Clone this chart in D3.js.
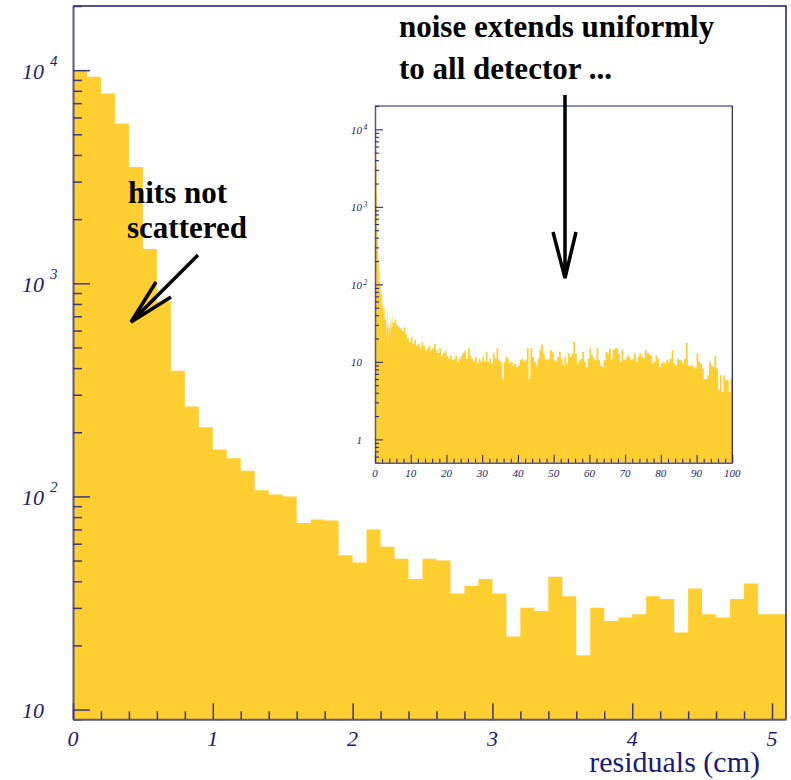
<!DOCTYPE html>
<html>
<head>
<meta charset="utf-8">
<script src="https://cdn.jsdelivr.net/npm/d3@7"></script>
<style>
  html, body { margin: 0; padding: 0; background: #fff; }
  svg { display: block; }
  text { font-family: "Liberation Serif", "Times New Roman", serif; }
</style>
</head>
<body>
<svg id="chart" width="791" height="780"></svg>
<script>
// residual histogram, 0.1 cm bins from 0 to 5.1 cm
const binWidth = 0.1;
const mainCounts = [
  9900, 9310, 7780, 5620, 3515, 1450, 822, 389, 264, 211,
  166, 151, 132, 107, 102, 100, 75, 78, 77, 53,
  49, 70, 58, 51, 41, 51, 50, 35, 38, 41,
  35, 22, 30, 29, 42, 34, 18, 30, 26, 27,
  28, 34, 33, 23, 37, 28, 27, 33, 39, 28,
  28
];

// inset: the same histogram up to 5 cm, then the noise tail in 0.5 cm bins up to 100 cm
const noiseStart = 5.0;
const noiseBinWidth = 0.5;
const noiseCounts = [
  32, 35, 30, 28, 27, 25, 28, 23, 20, 18,
  21, 17, 19, 16, 17, 15, 18, 16, 14, 15,
  16, 14, 15, 17, 14, 13, 15, 12, 13, 14,
  12, 11, 12, 10.5, 11, 12, 10, 11, 12, 13,
  14, 11, 15, 12, 11, 10, 11.5, 9.5, 11, 10,
  11.6, 10, 13.5, 10, 11, 9.5, 12.8, 11, 15, 10.5,
  10, 5.9, 10, 11.6, 11, 9.5, 10, 9, 9.5, 8.6,
  9, 10.5, 11, 10, 10.5, 15, 5.9, 15, 11.6, 10,
  9, 11, 14.2, 16.9, 12.8, 11, 10.5, 11, 14.2, 13.5,
  10.5, 10, 11.6, 13.5, 11, 9, 11.6, 9.5, 12.8, 11.6,
  12.8, 18.2, 12.8, 9.5, 10.5, 11, 13.5, 10, 8.6, 11,
  15, 12.2, 11, 10.5, 15, 10.5, 9, 8.6, 10.5, 13.5,
  12.8, 15, 11, 14.2, 15, 15, 12.8, 10, 14.2, 10.5,
  11, 12.2, 11.6, 10.5, 11, 12.8, 10, 11.6, 12.8, 11.6,
  11, 14.2, 12.8, 12.8, 12.2, 9.5, 10, 12.2, 11, 8.6,
  9.5, 10, 9.5, 10.5, 10, 11, 14.2, 9.5, 9, 11,
  10.5, 10.5, 9.5, 11, 17.7, 9, 8.8, 9, 8.6, 8.2,
  12.8, 10, 9.5, 8.2, 6, 6, 6.7, 10, 9, 8.6,
  11.8, 8.2, 4.3, 6.7, 4.1, 6.7, 5.8, 5.8, 4.1, 6
];

const mainXLabels = [0, 1, 2, 3, 4, 5];
const mainYDecades = [1, 2, 3, 4];
const insetXLabels = [0, 10, 20, 30, 40, 50, 60, 70, 80, 90, 100];
const insetYDecades = [0, 1, 2, 3, 4];

const fillColor = '#ffce30';
const navy = '#1b1b72';
const axisGrey = '#5d5786';

const svg = d3.select('#chart');

function logTicks(domain, decades) {
  const majors = [];
  const minors = [];
  decades.forEach(d => {
    for (let m = 1; m <= 9; m++) {
      const v = m * Math.pow(10, d);
      if (v < domain[0] || v > domain[1]) continue;
      (m === 1 ? majors : minors).push(v);
    }
  });
  return { majors, minors };
}

function stepArea(xs, ys, bottom) {
  return d3.area()
    .curve(d3.curveStepAfter)
    .x(d => xs(d[0]))
    .y0(bottom)
    .y1(d => ys(d[1]));
}

// ---------- main histogram ----------
const x = d3.scaleLinear().domain([0, 5.1]).range([73, 786]);
const y = d3.scaleLog().domain([9, 20000]).range([719.3, 6]);

const mainPts = mainCounts.map((v, i) => [i * binWidth, v]);
mainPts.push([mainCounts.length * binWidth, mainCounts[mainCounts.length - 1]]);

svg.append('path')
  .datum(mainPts)
  .attr('fill', fillColor)
  .attr('d', stepArea(x, y, y.range()[0]));

// frame top / right
svg.append('path')
  .attr('d', `M${x(0)},${y(20000)}H${x(5.1)}V${y(9)}`)
  .attr('fill', 'none')
  .attr('stroke', navy)
  .attr('stroke-width', 1.5);

const mainY = logTicks(y.domain(), [0, 1, 2, 3, 4]);

const yMajor = svg.append('g')
  .attr('transform', `translate(${x(0)},0)`)
  .call(d3.axisRight(y).tickValues(mainY.majors).tickSize(17).tickSizeOuter(0).tickFormat(''));
yMajor.select('.domain').attr('stroke', axisGrey).attr('stroke-width', 2);
svg.append('g')
  .attr('transform', `translate(${x(0)},0)`)
  .call(d3.axisRight(y).tickValues(mainY.minors).tickSize(9).tickSizeOuter(0).tickFormat(''))
  .select('.domain').remove();

const xMinor = d3.range(1, 26).map(i => i * 0.2).filter(v => Math.abs(v - Math.round(v)) > 1e-6);
const xMajorAxis = svg.append('g')
  .attr('transform', `translate(0,${y(9)})`)
  .call(d3.axisTop(x).tickValues(mainXLabels).tickSize(16).tickSizeOuter(0).tickFormat(''));
xMajorAxis.select('.domain').attr('stroke', axisGrey).attr('stroke-width', 2);
svg.append('g')
  .attr('transform', `translate(0,${y(9)})`)
  .call(d3.axisTop(x).tickValues(xMinor).tickSize(8).tickSizeOuter(0).tickFormat(''))
  .select('.domain').remove();

svg.selectAll('.tick line').attr('stroke', '#3c3874').attr('stroke-width', 1.5);

// main tick labels
svg.append('g').selectAll('text')
  .data(mainXLabels)
  .join('text')
  .attr('x', d => x(d))
  .attr('y', 746)
  .attr('text-anchor', 'middle')
  .attr('font-size', 22)
  .attr('font-style', 'italic')
  .attr('fill', navy)
  .text(d => d);

const yLab = svg.append('g').selectAll('g')
  .data(mainYDecades)
  .join('g');
yLab.append('text')
  .attr('x', 44)
  .attr('y', d => y(Math.pow(10, d)) + 8.5)
  .attr('text-anchor', 'end')
  .attr('font-size', 22)
  .attr('font-style', 'italic')
  .attr('fill', navy)
  .text('10');
yLab.filter(d => d > 1).append('text')
  .attr('x', 50)
  .attr('y', d => y(Math.pow(10, d)) - 4)
  .attr('font-size', 15)
  .attr('font-style', 'italic')
  .attr('fill', navy)
  .text(d => d);

svg.append('text')
  .attr('x', 760)
  .attr('y', 772)
  .attr('text-anchor', 'end')
  .attr('font-size', 30)
  .attr('fill', navy)
  .text('residuals (cm)');

// ---------- inset ----------
const xi = d3.scaleLinear().domain([0, 100]).range([375, 732.3]);
const yi = d3.scaleLog().domain([0.5, 20000]).range([462.7, 106]);

svg.append('rect')
  .attr('x', xi(0)).attr('y', yi(20000))
  .attr('width', xi(100) - xi(0)).attr('height', yi(0.5) - yi(20000))
  .attr('fill', '#fff');

const insetPts = mainCounts
  .map((v, i) => [i * binWidth, v])
  .filter(d => d[0] < noiseStart - 1e-9);
noiseCounts.forEach((v, i) => insetPts.push([noiseStart + i * noiseBinWidth, v]));
insetPts.push([100, noiseCounts[noiseCounts.length - 1]]);

svg.append('path')
  .datum(insetPts)
  .attr('fill', fillColor)
  .attr('d', stepArea(xi, yi, yi.range()[0]));

svg.append('path')
  .attr('d', `M${xi(0)},${yi(20000)}H${xi(100)}V${yi(0.5)}`)
  .attr('fill', 'none')
  .attr('stroke', navy)
  .attr('stroke-width', 1.2);

const insY = logTicks(yi.domain(), [-1, 0, 1, 2, 3, 4]);
const iyMajor = svg.append('g')
  .attr('class', 'inset')
  .attr('transform', `translate(${xi(0)},0)`)
  .call(d3.axisRight(yi).tickValues(insY.majors).tickSize(8).tickSizeOuter(0).tickFormat(''));
iyMajor.select('.domain').attr('stroke', axisGrey).attr('stroke-width', 1.5);
svg.append('g')
  .attr('class', 'inset')
  .attr('transform', `translate(${xi(0)},0)`)
  .call(d3.axisRight(yi).tickValues(insY.minors).tickSize(4).tickSizeOuter(0).tickFormat(''))
  .select('.domain').remove();

const insXMinor = d3.range(1, 50).map(i => i * 2).filter(v => v % 10 !== 0);
const ixMajor = svg.append('g')
  .attr('class', 'inset')
  .attr('transform', `translate(0,${yi(0.5)})`)
  .call(d3.axisTop(xi).tickValues(insetXLabels).tickSize(8).tickSizeOuter(0).tickFormat(''));
ixMajor.select('.domain').attr('stroke', axisGrey).attr('stroke-width', 1.5);
svg.append('g')
  .attr('class', 'inset')
  .attr('transform', `translate(0,${yi(0.5)})`)
  .call(d3.axisTop(xi).tickValues(insXMinor).tickSize(4).tickSizeOuter(0).tickFormat(''))
  .select('.domain').remove();

svg.selectAll('.inset .tick line').attr('stroke', '#2c2a72').attr('stroke-width', 1.1);

svg.append('g').selectAll('text')
  .data(insetXLabels)
  .join('text')
  .attr('x', d => xi(d))
  .attr('y', 477)
  .attr('text-anchor', 'middle')
  .attr('font-size', 11)
  .attr('font-style', 'italic')
  .attr('fill', navy)
  .text(d => d);

const iyLab = svg.append('g').selectAll('g')
  .data(insetYDecades)
  .join('g');
iyLab.append('text')
  .attr('x', 362)
  .attr('y', d => yi(Math.pow(10, d)) + 4.5)
  .attr('text-anchor', 'end')
  .attr('font-size', 11)
  .attr('font-style', 'italic')
  .attr('fill', navy)
  .text(d => d === 0 ? '1' : '10');
iyLab.filter(d => d > 1).append('text')
  .attr('x', 363.5)
  .attr('y', d => yi(Math.pow(10, d)) + 0.5)
  .attr('font-size', 7.5)
  .attr('font-style', 'italic')
  .attr('fill', navy)
  .text(d => d);

// ---------- annotations ----------
const notes = svg.append('g')
  .attr('font-size', 31)
  .attr('font-weight', 'bold')
  .attr('fill', '#000');
notes.append('text').attr('x', 128).attr('y', 203).text('hits not');
notes.append('text').attr('x', 127).attr('y', 238).text('scattered');
notes.append('text').attr('x', 399).attr('y', 37).text('noise extends uniformly');
notes.append('text').attr('x', 399).attr('y', 79).text('to all detector ...');

const arrows = svg.append('g')
  .attr('fill', 'none')
  .attr('stroke', '#000')
  .attr('stroke-width', 3.5)
  .attr('stroke-linecap', 'butt');
arrows.append('path').attr('d', 'M198,255L131,322M156,282L131,322L171,297');
arrows.append('path').attr('d', 'M565,95V278M553,232L565,278L576,232');
</script>
</body>
</html>
